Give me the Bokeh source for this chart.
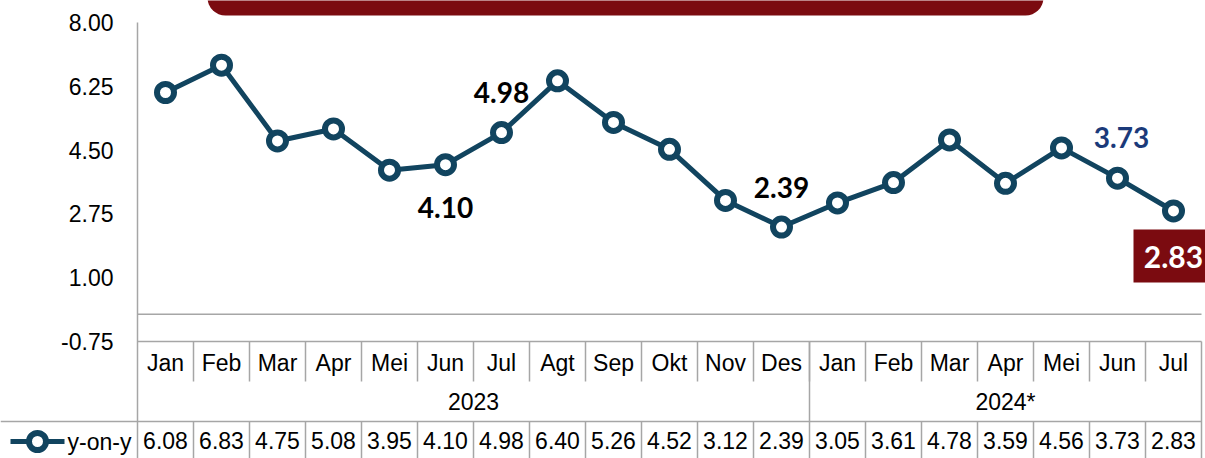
from bokeh.plotting import figure
from bokeh.models import Range1d, ColumnDataSource, BoxAnnotation
from bokeh.core.properties import value
from bokeh.embed import file_html
from bokeh.resources import INLINE

# ---------------- data ----------------
months = ["Jan", "Feb", "Mar", "Apr", "Mei", "Jun", "Jul", "Agt", "Sep", "Okt", "Nov", "Des",
          "Jan", "Feb", "Mar", "Apr", "Mei", "Jun", "Jul"]
years = ["2023", "2024*"]
year_counts = [12, 7]
yoy = [6.08, 6.83, 4.75, 5.08, 3.95, 4.10, 4.98, 6.40, 5.26, 4.52, 3.12, 2.39,
       3.05, 3.61, 4.78, 3.59, 4.56, 3.73, 2.83]
y_ticks = [-0.75, 1.00, 2.75, 4.50, 6.25, 8.00]
series_name = "y-on-y"
callout_idx = [5, 6, 11, 17, 18]

# ---------------- layout constants ----------------
W, H = 1205, 458
plot_left, plot_right = 137, 1201
top_px, bot_px = 22, 341          # pixel y of 8.00 and -0.75
n = len(months)
col_w = (plot_right - plot_left) / n
ppu = (bot_px - top_px) / (y_ticks[-1] - y_ticks[0])

x_start = -0.5 - plot_left / col_w
x_end = x_start + W / col_w
y_end = y_ticks[-1] + top_px / ppu
y_start = y_end - H / ppu

LINE = "#11445F"
GRID = "#A6A6A6"
RED = "#7B0B10"
SANS = value("Liberation Sans")
BOLD = value("Lato")
FS = "23px"

p = figure(width=W, height=H, x_range=Range1d(x_start, x_end), y_range=Range1d(y_start, y_end),
           x_axis_type=None, y_axis_type=None, min_border=0, toolbar_location=None,
           output_backend="svg", outline_line_color=None)
p.grid.visible = False
p.extra_x_ranges = {"px": Range1d(0, W)}
p.extra_y_ranges = {"px": Range1d(H, 0)}

# title banner (top, mostly outside view)
p.add_layout(BoxAnnotation(left=207, right=1043, top=-40, bottom=15, fill_color=RED, fill_alpha=1,
                           line_color=None, border_radius=18, x_range_name="px", y_range_name="px"))

idx = list(range(n))

# ---------------- grid / table lines ----------------
p.segment(x0=[plot_left], y0=[top_px], x1=[plot_left], y1=[H + 10],
          x_range_name="px", y_range_name="px", line_color=GRID, line_width=1.5)
p.segment(x0=[-0.5, -0.5], y0=[0, y_ticks[0]], x1=[n - 0.5, n - 0.5], y1=[0, y_ticks[0]],
          line_color=GRID, line_width=1.5)
sep_x = [i - 0.5 for i in range(1, n)]
p.segment(x0=sep_x, y0=[341] * len(sep_x), x1=sep_x, y1=[381] * len(sep_x),
          y_range_name="px", line_color=GRID, line_width=1.5)
yb = [year_counts[0] - 0.5]
p.segment(x0=yb, y0=[341], x1=yb, y1=[421], y_range_name="px", line_color=GRID, line_width=1.5)
p.segment(x0=[n - 0.5], y0=[341], x1=[n - 0.5], y1=[H + 10], y_range_name="px",
          line_color=GRID, line_width=1.5)
p.segment(x0=[0], y0=[421], x1=[plot_right], y1=[421], x_range_name="px", y_range_name="px",
          line_color=GRID, line_width=1.5)
p.segment(x0=sep_x, y0=[421] * len(sep_x), x1=sep_x, y1=[H + 10] * len(sep_x),
          y_range_name="px", line_color=GRID, line_width=1.5)

# ---------------- y tick labels ----------------
p.text(x=[113] * len(y_ticks), y=y_ticks, text=[f"{t:.2f}" for t in y_ticks], x_range_name="px",
       text_align="right", text_baseline="middle", text_font=SANS, text_font_size=FS,
       text_color="#000000")

# ---------------- series ----------------
src = ColumnDataSource(dict(x=idx, y=yoy))
p.line("x", "y", source=src, line_color=LINE, line_width=5)
p.scatter("x", "y", source=src, size=17, line_width=6, line_color=LINE, fill_color="white")

# ---------------- callout labels ----------------
offsets = {5: (0, 43), 6: (0, -40), 11: (0, -40), 17: (4, -41), 18: (0, 46)}
colors = {5: "#000000", 6: "#000000", 11: "#000000", 17: "#1B3A7A", 18: "#FFFFFF"}
sizes = {5: "28px", 6: "28px", 11: "28px", 17: "28px", 18: "30px"}
p.quad(left=[1133], right=[1215], top=[229], bottom=[282], x_range_name="px", y_range_name="px",
       fill_color=RED, line_color=None)
for i in callout_idx:
    dx, dy = offsets[i]
    p.text(x=[i], y=[yoy[i]], text=[f"{yoy[i]:.2f}"], x_offset=dx, y_offset=dy,
           text_align="center", text_baseline="middle", text_font=BOLD, text_font_style="bold",
           text_font_size=sizes[i], text_color=colors[i])

# ---------------- table texts ----------------
p.text(x=idx, y=[362] * n, text=months, y_range_name="px", text_align="center",
       text_baseline="middle", text_font=SANS, text_font_size=FS, text_color="#000000")
yc, start = [], 0
for c in year_counts:
    yc.append(start + c / 2 - 0.5)
    start += c
p.text(x=yc, y=[401] * len(years), text=years, y_range_name="px", text_align="center",
       text_baseline="middle", text_font=SANS, text_font_size=FS, text_color="#000000")
p.text(x=idx, y=[440] * n, text=[f"{v:.2f}" for v in yoy], y_range_name="px", text_align="center",
       text_baseline="middle", text_font=SANS, text_font_size=FS, text_color="#000000")

# legend cell
p.segment(x0=[10], y0=[441], x1=[64], y1=[441], x_range_name="px", y_range_name="px",
          line_color=LINE, line_width=5)
p.scatter(x=[37], y=[441], x_range_name="px", y_range_name="px", size=17, line_width=6,
          line_color=LINE, fill_color="white")
p.text(x=[67], y=[441], text=[series_name], x_range_name="px", y_range_name="px",
       text_align="left", text_baseline="middle", text_font=SANS, text_font_size=FS,
       text_color="#000000")

open("out.html", "w").write(file_html(p, INLINE))
